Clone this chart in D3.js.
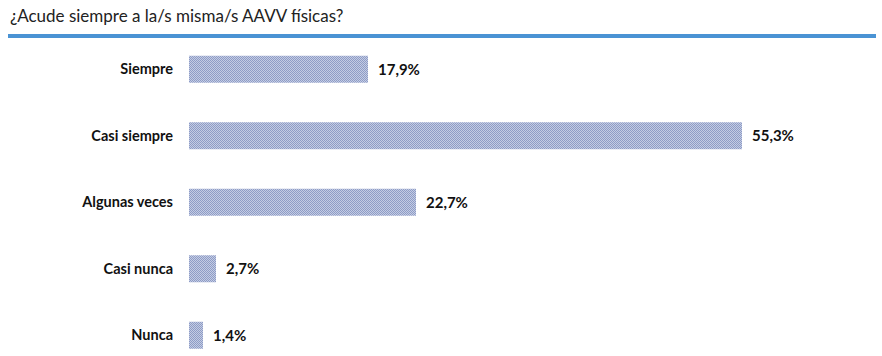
<!DOCTYPE html>
<html><head><meta charset="utf-8">
<script src="https://cdn.jsdelivr.net/npm/d3@7"></script>
<style>body{margin:0;background:#fff}</style>
</head><body>
<script>
const categories = ["Siempre","Casi siempre","Algunas veces","Casi nunca","Nunca"];
const values = [17.9,55.3,22.7,2.7,1.4];
const valueLabels = ["17,9%","55,3%","22,7%","2,7%","1,4%"];
const title = "¿Acude siempre a la/s misma/s AAVV físicas?";

const W=882,H=356;
const svg=d3.select("body").append("svg").attr("width",W).attr("height",H);
const defs=svg.append("defs");
const pat=defs.append("pattern").attr("id","chk").attr("width",2).attr("height",2).attr("patternUnits","userSpaceOnUse");
pat.append("rect").attr("width",2).attr("height",2).attr("fill","#c4cce3");
pat.append("rect").attr("width",1).attr("height",1).attr("fill","#8e9cc6");
pat.append("rect").attr("x",1).attr("y",1).attr("width",1).attr("height",1).attr("fill","#8e9cc6");

svg.append("text").attr("x",10).attr("y",22).attr("font-family","Lato, 'Open Sans', sans-serif")
  .attr("font-size",17).attr("fill","#222").text(title);
svg.append("rect").attr("x",8).attr("y",34).attr("width",868).attr("height",4).attr("fill","#4a93d4");

const x=d3.scaleLinear().domain([0,10]).range([189,289]);
const y=d3.scaleBand().domain(categories).range([36,368.5]).paddingInner(0.594).paddingOuter(0.297);

svg.selectAll(".bar").data(values).join("rect")
  .attr("x",x(0)).attr("y",(d,i)=>y(categories[i]))
  .attr("width",d=>x(d)-x(0)).attr("height",y.bandwidth()).attr("fill","url(#chk)");

const font="Lato, 'Open Sans', sans-serif";
svg.selectAll(".cat").data(categories).join("text")
  .attr("x",173).attr("y",d=>y(d)+y.bandwidth()/2).attr("dy","0.35em")
  .attr("text-anchor","end").attr("font-family",font).attr("font-weight","bold")
  .attr("font-size",14.5).attr("fill","#111").text(d=>d);

svg.selectAll(".val").data(values).join("text")
  .attr("x",d=>x(d)+10).attr("y",(d,i)=>y(categories[i])+y.bandwidth()/2).attr("dy","0.35em")
  .attr("font-family",font).attr("font-weight","bold")
  .attr("font-size",15).attr("fill","#111").text((d,i)=>valueLabels[i]);
</script>
</body></html>
